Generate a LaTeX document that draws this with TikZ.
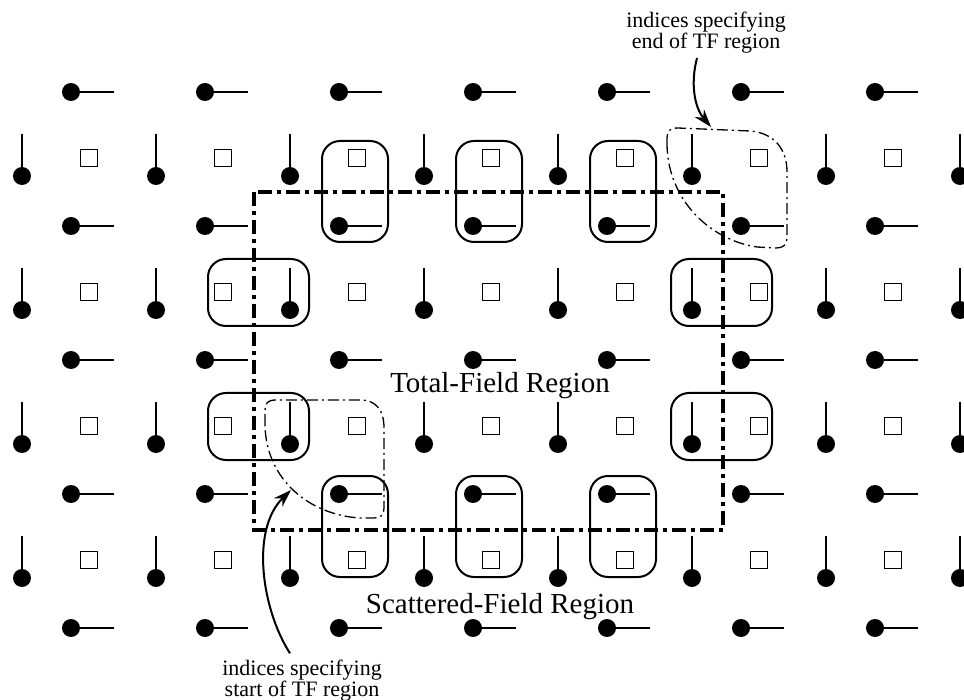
\documentclass[tikz,border=0pt]{standalone}
\usepackage{fontspec}
\setmainfont{Liberation Serif}
\usetikzlibrary{arrows.meta}
\begin{document}
\begin{tikzpicture}[x=1pt,y=-1pt,
  fieldline/.style={line width=2pt},
  hsq/.style={line width=1.6pt},
  groupbox/.style={line width=2pt, rounded corners=18pt},
  tfline/.style={line width=3.3pt, dash pattern=on 14pt off 5pt on 4pt off 5pt},
  idxregion/.style={line width=1.3pt, dash pattern=on 11pt off 4pt on 2pt off 4pt},
  pointer/.style={line width=2pt, -{Stealth[length=18pt,width=12pt]}},
  bigtext/.style={font=\fontsize{29pt}{34pt}\selectfont, inner sep=0pt, anchor=base},
  smalltext/.style={font=\fontsize{22pt}{21pt}\selectfont, inner sep=0pt, anchor=base}
]
\useasboundingbox (0,0) rectangle (964,700);

% Ex components (dot with horizontal line)
\foreach \i in {0,...,6} {
  \foreach \j in {0,...,4} {
    \fill ({71+134*\i},{92+134*\j}) circle (9pt);
    \draw[fieldline] ({71+134*\i},{92+134*\j}) -- ++(43,0);
  }
}
% Ey components (dot with vertical line)
\foreach \i in {0,...,7} {
  \foreach \j in {0,...,3} {
    \fill ({22+134*\i},{176+134*\j}) circle (9pt);
    \draw[fieldline] ({22+134*\i},{176+134*\j}) -- ++(0,-42);
  }
}
% Hz components (squares)
\foreach \i in {0,...,6} {
  \foreach \j in {0,...,3} {
    \draw[hsq] ({89+134*\i-8.5},{158+134*\j-8.5}) rectangle ++(17,17);
  }
}

% Total-field boundary
\draw[tfline] (254,192) rectangle (723,530);

% grouping boxes
\foreach \x in {357,491,625} {
  \draw[groupbox] ({\x-35},141) rectangle ({\x+31},242);
  \draw[groupbox] ({\x-35},476) rectangle ({\x+31},577);
}
\foreach \y in {292,426} {
  \draw[groupbox] (208,{\y-33}) rectangle (309,{\y+34});
  \draw[groupbox] (671,{\y-33}) rectangle (772,{\y+34});
}

% index regions
\draw[idxregion] (265,425) -- (265,410) .. controls (265,403) and (268,400) .. (276,400)
  -- (360,400) .. controls (376,400) and (384,410) .. (384,428)
  -- (384,508) .. controls (384,515) and (381,518) .. (374,518)
  -- (360,518) .. controls (310,515) and (266,480) .. (265,425) -- cycle;
\draw[idxregion] (667,145) -- (667,138) .. controls (667,131) and (670,128) .. (678,128)
  -- (750,131) .. controls (775,133) and (787,150) .. (787,172)
  -- (787,238) .. controls (787,245) and (783,248) .. (776,248)
  -- (757,247) .. controls (710,240) and (668,200) .. (667,145) -- cycle;

% region labels
\node[bigtext] (tf) at (500,393) {Total-Field Region};
\node[bigtext] (sf) at (500,613) {Scattered-Field Region};

% index labels
\node[smalltext] (endA) at (706,28) {indices specifying};
\node[smalltext] (endB) at (706,49) {end of TF region};
\node[smalltext] (startA) at (302,675) {indices specifying};
\node[smalltext] (startB) at (302,696) {start of TF region};

\coordinate (endtip) at (711,127);
\coordinate (starttip) at (291,490);

\draw[pointer] ([xshift=-9pt,yshift=-4pt]endB.south) .. controls (690,85) and (695,108) .. (endtip);
\draw[pointer] ([xshift=-12pt,yshift=6pt]startA.north) .. controls (262,610) and (250,530) .. (starttip);
\end{tikzpicture}
\end{document}
